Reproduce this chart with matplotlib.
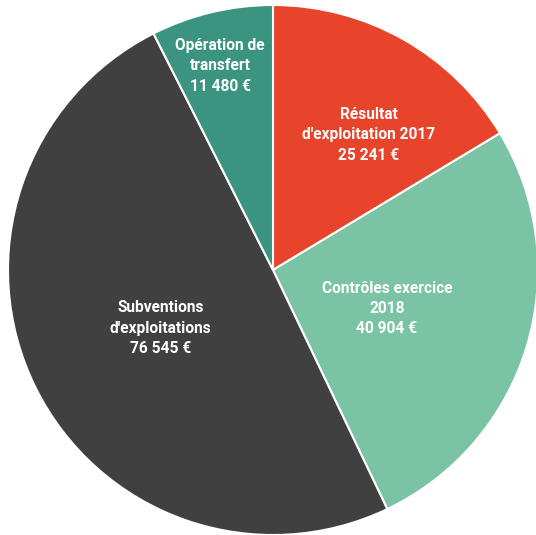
import matplotlib
matplotlib.use("Agg")
import matplotlib.pyplot as plt

labels = ["Résultat\nd'exploitation 2017", "Contrôles exercice\n2018",
          "Subventions\nd'exploitations", "Opération de\ntransfert"]
values = [25241, 40904, 76545, 11480]
value_text = ["25 241 €", "40 904 €", "76 545 €", "11 480 €"]
colors = ["#E8442B", "#7AC3A5", "#404040", "#3A947F"]
# label positions (x, y) in pie radius units
label_pos = [(0.36, 0.51), (0.43, -0.145), (-0.425, -0.22), (-0.20, 0.77)]

fig = plt.figure(figsize=(5.36, 5.35), dpi=100)
ax = fig.add_axes([0, 0, 1, 1])
ax.pie(values, colors=colors, startangle=90, counterclock=False, radius=1,
       wedgeprops=dict(edgecolor="white", linewidth=1.5))
for lab, vt, (x, y) in zip(labels, value_text, label_pos):
    ax.text(x, y, lab + "\n" + vt, ha="center", va="center", color="white",
            fontsize=11.2, fontweight="bold", family=["Roboto", "DejaVu Sans"],
            linespacing=1.45)
ax.set_xlim(-273 / 265, (536 - 273) / 265)
ax.set_ylim(-(535 - 270) / 265, 270 / 265)
ax.set_aspect("equal")
ax.axis("off")
fig.savefig("out.png", dpi=100, facecolor="white")
